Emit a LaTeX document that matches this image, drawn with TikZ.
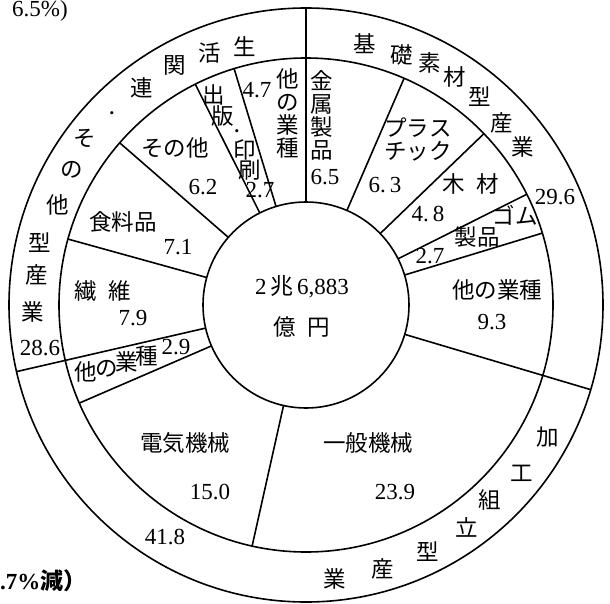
\documentclass[tikz,border=0pt]{standalone}
\usepackage{fontspec}
\setmainfont{Liberation Serif}
\newfontfamily\jp{Noto Sans CJK JP}
\usetikzlibrary{calc}
\begin{document}
\begin{tikzpicture}[x=1pt,y=-1pt,
  ring/.style={line width=1.6pt},
  jl/.style={font=\jp\fontsize{22.5}{23}\selectfont, inner sep=0pt, align=center},
  nl/.style={font=\fontsize{23}{24}\selectfont, inner sep=0pt},
  dot/.style={font=\fontsize{13}{13}\selectfont, inner sep=0pt}]
\useasboundingbox (0,0) rectangle (610,604);
\coordinate (C) at (306,305);
% rings
\draw[ring] (C) circle[radius=297pt];
\draw[ring] (C) circle[radius=247pt];
\draw[ring] (C) circle[radius=103pt];
% group boundaries (inner to outer)
\foreach \p in {0,29.6,71.4}
  \draw[ring] ($(C)+({\p*3.6-90}:103)$) -- ($(C)+({\p*3.6-90}:297)$);
% sector boundaries (inner to middle)
\foreach \p in {6.5,12.8,17.6,20.3,53.5,68.5,79.3,86.4,92.6,95.3}
  \draw[ring] ($(C)+({\p*3.6-90}:103)$) -- ($(C)+({\p*3.6-90}:247)$);
% centre
\node[nl] (tot) at (302,287) {2\,{\jp 兆}\,6,883};
\node[jl] (oku) at (302,327) {億\hspace{12pt}円};
% outer ring: basic materials
\node[jl] (b1) at (365,44) {基};
\node[jl] (b2) at (402,55) {礎};
\node[jl] (b3) at (430,63) {素};
\node[jl] (b4) at (455,77) {材};
\node[jl] (b5) at (480,97) {型};
\node[jl] (b6) at (502,123) {産};
\node[jl] (b7) at (523,147) {業};
\node[nl] (bsum) at (555,197) {29.6};
% outer ring: processing / assembly
\node[jl] (k1) at (548,437) {加};
\node[jl] (k2) at (522,473) {工};
\node[jl] (k3) at (490,500) {組};
\node[jl] (k4) at (467,527) {立};
\node[jl] (k5) at (428,552) {型};
\node[jl] (k6) at (383,569) {産};
\node[jl] (k7) at (335,579) {業};
\node[nl] (ksum) at (165,537) {41.8};
% outer ring: living related / others
\node[jl] (s1) at (245,47) {生};
\node[jl] (s2) at (210,53) {活};
\node[jl] (s3) at (175,65) {関};
\node[jl] (s4) at (142,88) {連};
\node[dot] (s5) at (112,115) {•};
\node[jl] (s6) at (85,138) {そ};
\node[jl] (s7) at (72,170) {の};
\node[jl] (s8) at (58,205) {他};
\node[jl] (s9) at (40,243) {型};
\node[jl] (s10) at (37,275) {産};
\node[jl] (s11) at (33,312) {業};
\node[nl] (ssum) at (40,348) {28.6};
% middle ring: basic materials sectors
\node[jl] (kin) at (322,115) {金\\属\\製\\品};
\node[nl] (kinv) at (325,177) {6.5};
\node[jl] (pla) at (418,139) {プラス\\チック};
\node[nl] (plav) at (385,185) {6.\,3};
\node[jl] (moku) at (471,184) {木\hspace{12pt}材};
\node[nl] (mokuv) at (428,214) {4.\,8};
\node[jl] (gomu) at (515,215) {ゴム};
\node[jl] (gomu2) at (477,237) {製品};
\node[nl] (gomuv) at (430,256) {2.7};
\node[jl] (bot) at (497,290) {他の業種};
\node[nl] (botv) at (492,322) {9.3};
% middle ring: processing sectors
\node[jl] (ippan) at (368,443) {一般機械};
\node[nl] (ippanv) at (395,492) {23.9};
\node[jl] (denki) at (185,443) {電気機械};
\node[nl] (denkiv) at (210,492) {15.0};
\node[jl] (ko1) at (86,372) {他};
\node[jl] (ko2) at (107,369) {の};
\node[jl] (ko3) at (127,362) {業};
\node[jl] (ko4) at (147,356) {種};
\node[nl] (kov) at (176,347) {2.9};
% middle ring: living related sectors
\node[jl] (sen) at (103,291) {繊\hspace{12pt}維};
\node[nl] (senv) at (133,318) {7.9};
\node[jl] (shoku) at (123,222) {食料品};
\node[nl] (shokuv) at (178,247) {7.1};
\node[jl] (sono) at (175,148) {その他};
\node[nl] (sonov) at (203,187) {6.2};
\node[jl] (sh1) at (214,95) {出};
\node[jl] (sh2) at (223,116) {版};
\node[dot] (sh3) at (237,133) {•};
\node[jl] (sh4) at (245,150) {印};
\node[jl] (sh5) at (250,170) {刷};
\node[nl] (shv) at (260,190) {2.7};
\node[jl] (sot) at (288,113) {他\\の\\業\\種};
\node[nl] (sotv) at (257,90) {4.7};
% cut-off side notes
\node[nl, anchor=base west] (notea) at (12,17) {6.5\%)};
\node[nl, anchor=base west] (noteb) at (0,589) {\textbf{.7\%}{\jp\bfseries 減）}};
\end{tikzpicture}
\end{document}
